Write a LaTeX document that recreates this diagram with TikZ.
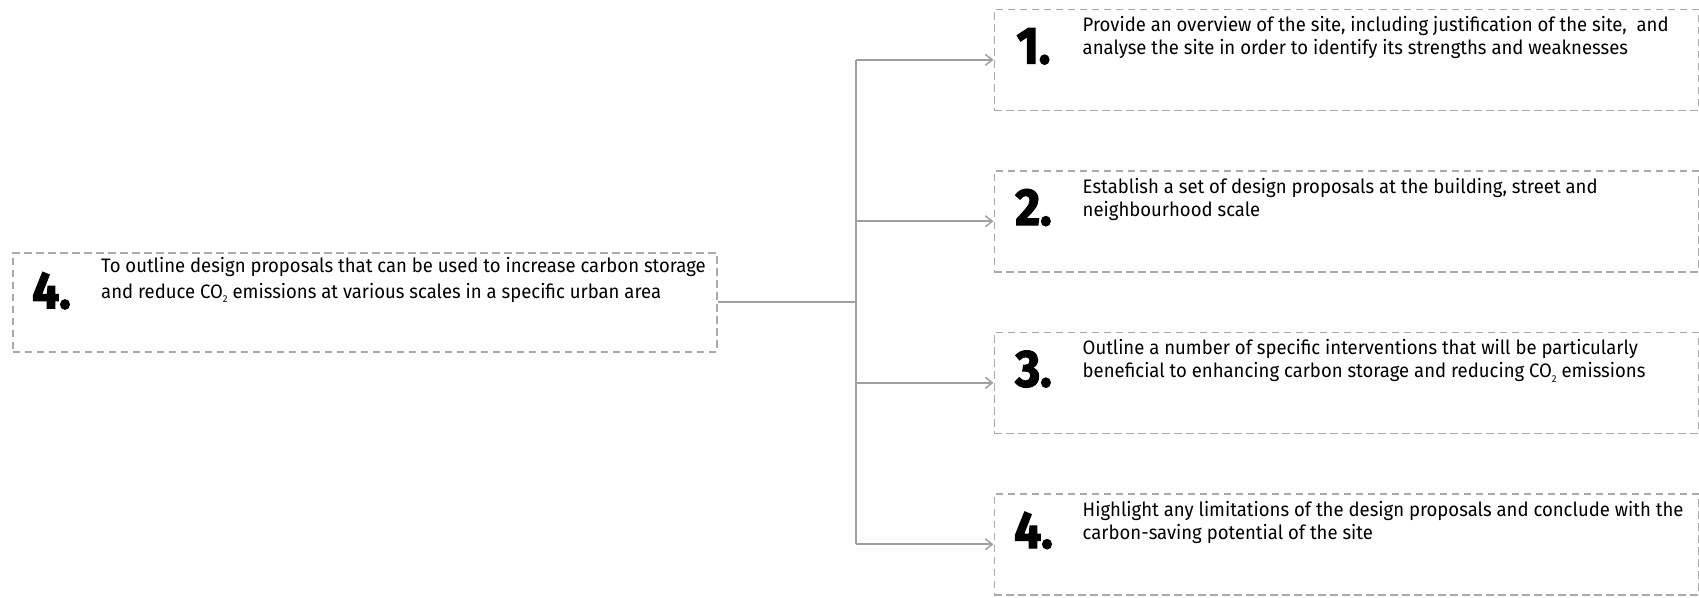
\documentclass[tikz,border=0pt]{standalone}
\usepackage{fontspec}
\setmainfont{Fira Sans}[FakeStretch=0.95]
\newfontfamily\numfont{Fira Sans}[FakeStretch=0.92, BoldFeatures={FakeBold=2.5}]
\usetikzlibrary{arrows.meta}
\definecolor{boxgray}{RGB}{170,170,170}
\definecolor{linegray}{RGB}{160,160,160}
\newcommand{\cotwo}{CO\raisebox{-0.45ex}{\fontsize{10}{10}\selectfont 2}}
\begin{document}
\begin{tikzpicture}[x=1pt,y=-1pt,
  box/.style={draw=boxgray, line width=1.6pt, dash pattern=on 7.5pt off 4.5pt, minimum height=101pt, inner sep=0pt, anchor=north west},
  num/.style={font=\numfont\bfseries\fontsize{52}{52}\selectfont, anchor=base, inner sep=0pt},
  txt/.style={font=\fontsize{19.5}{23}\selectfont, align=left, anchor=base west, inner sep=0pt},
  conn/.style={draw=linegray, line width=1.8pt},
  arr/.style={conn, -{Straight Barb[length=7pt,width=11pt,line width=1.5pt]}}
]
\useasboundingbox (0,0) rectangle (1699,597);
% left box
\node[box, minimum width=704pt, minimum height=99pt] (L) at (12,252) {};
\node[num] (Ln) at (51.5,308.3) {4.};
\node[txt, font=\fontsize{19.5}{26}\selectfont] (Lt) at (101,298.3) {To outline design proposals that can be used to increase carbon storage\\and reduce \cotwo{} emissions at various scales in a specific urban area};
% right boxes
\node[box, minimum width=704pt] (b1) at (993.5,8.5) {};
\node[box, minimum width=704pt] (b2) at (993.5,170) {};
\node[box, minimum width=704pt] (b3) at (993.5,331.5) {};
\node[box, minimum width=704pt] (b4) at (993.5,493) {};
\node[num] (n1) at (1033.5,63.5) {1.};
\node[num] (n2) at (1033.5,225) {2.};
\node[num] (n3) at (1033.5,386.5) {3.};
\node[num] (n4) at (1033.5,548) {4.};
\node[txt] (t1) at (1082.5,54.5) {Provide an overview of the site, including justification of the site,\ \ and\\analyse the site in order to identify its strengths and weaknesses};
\node[txt] (t2) at (1082.5,216) {Establish a set of design proposals at the building, street and\\neighbourhood scale};
\node[txt] (t3) at (1082.5,377.5) {Outline a number of specific interventions that will be particularly\\beneficial to enhancing carbon storage and reducing \cotwo{} emissions};
\node[txt] (t4) at (1082.5,539) {Highlight any limitations of the design proposals and conclude with the\\carbon-saving potential of the site};
% connectors
\coordinate (sp) at (856,0);
\draw[conn] (L.east) -- (sp |- L.east);
\draw[conn] (sp |- b1.west) -- (sp |- b4.west);
\draw[arr] (sp |- b1.west) -- (b1.west);
\draw[arr] (sp |- b2.west) -- (b2.west);
\draw[arr] (sp |- b3.west) -- (b3.west);
\draw[arr] (sp |- b4.west) -- (b4.west);
\end{tikzpicture}
\end{document}
